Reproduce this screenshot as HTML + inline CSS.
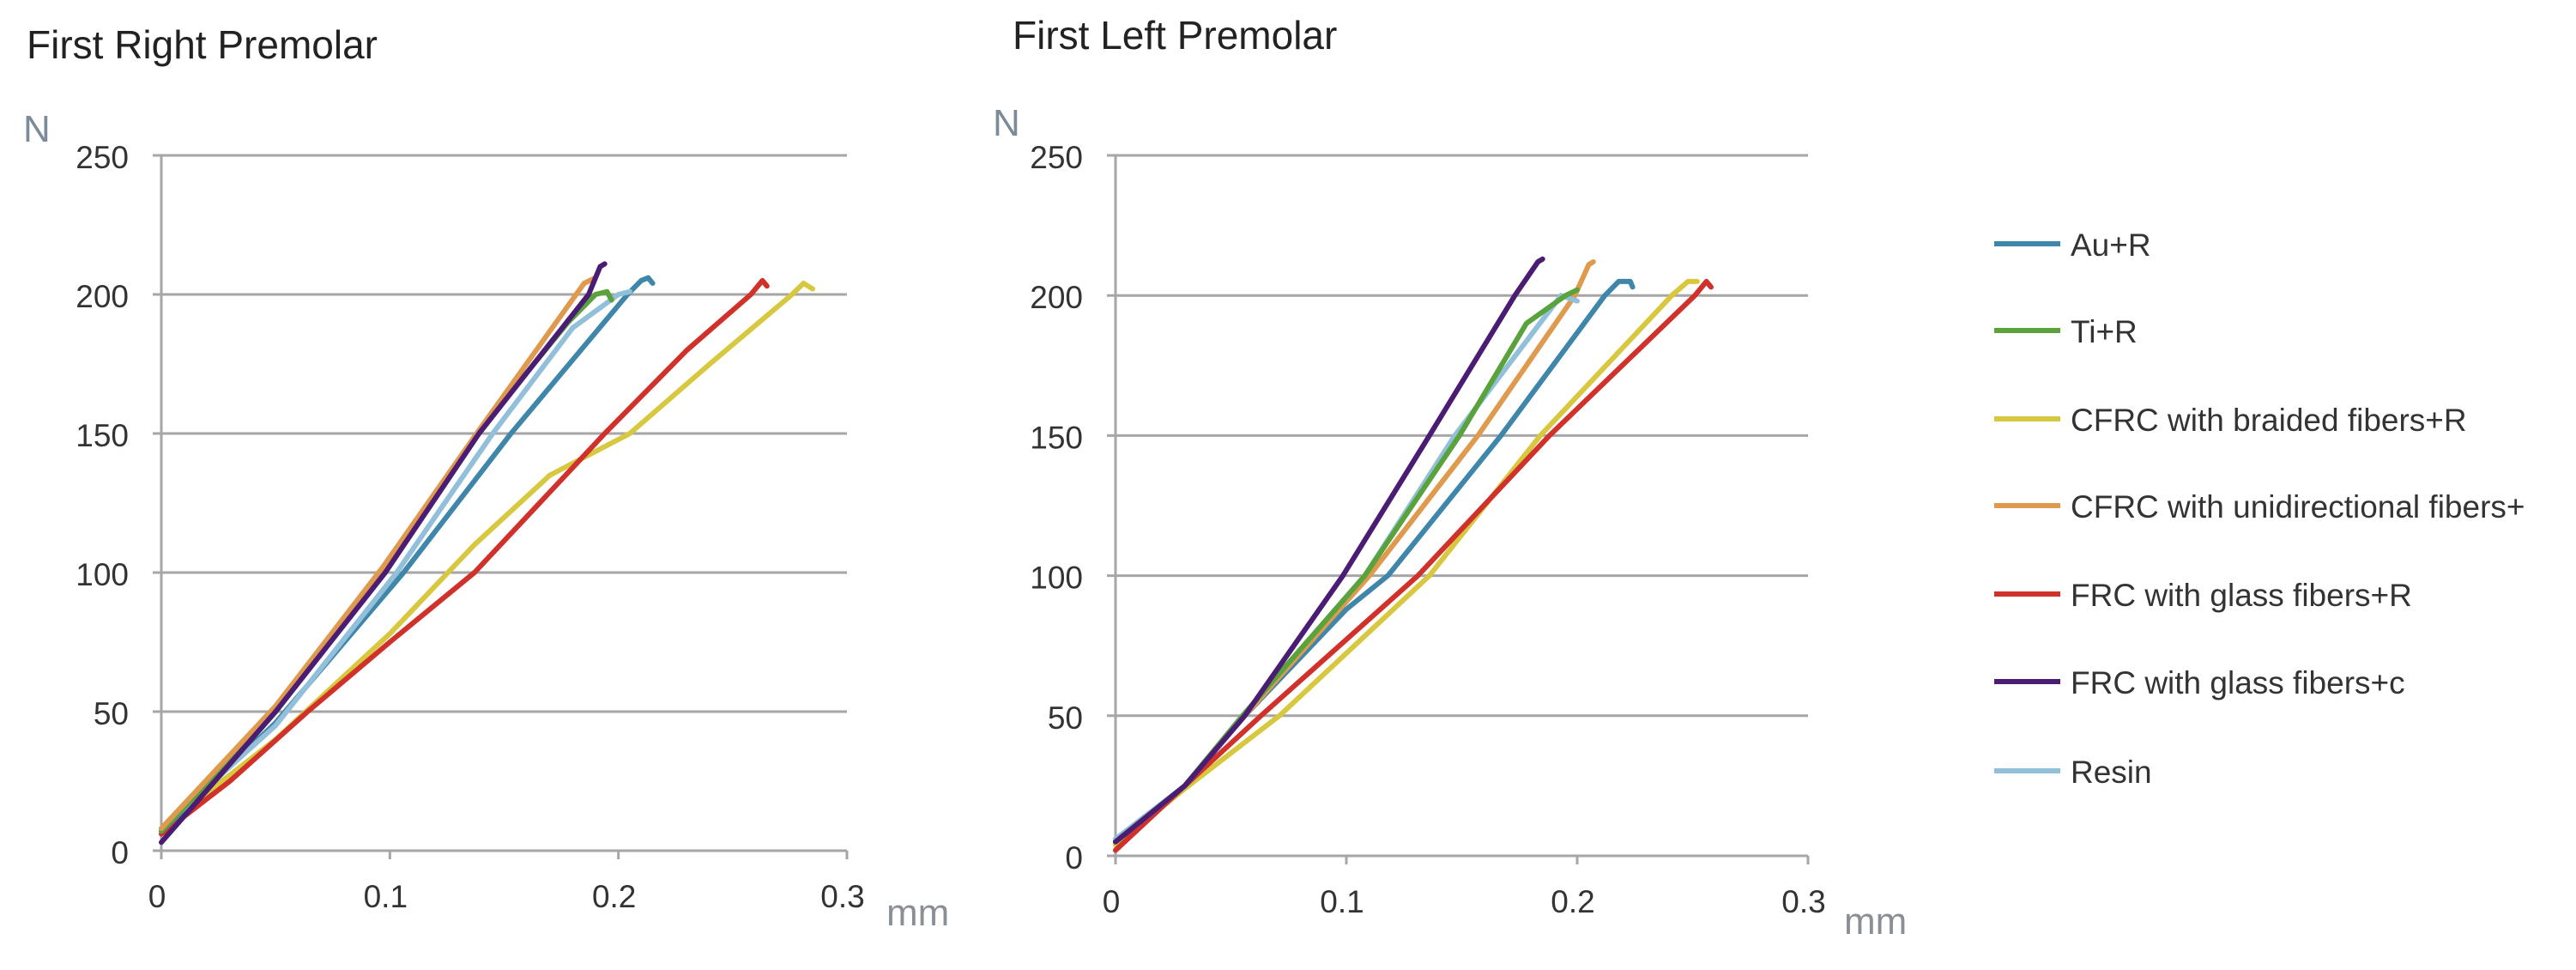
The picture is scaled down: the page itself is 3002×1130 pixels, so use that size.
<!DOCTYPE html>
<html><head><meta charset="utf-8"><style>
html,body{margin:0;padding:0;background:#fff;}
svg{display:block;font-family:"Liberation Sans",sans-serif;}
</style></head><body>
<svg id="root" width="3002" height="1130" viewBox="0 0 3002 1130">
<text x="31" y="68" font-size="46" fill="#222">First Right Premolar</text>
<text x="1180" y="57" font-size="46" fill="#222">First Left Premolar</text>
<g id="left"></g>
<g id="right"></g>
<g id="legend"></g>
</svg>
<script>
const seriesNames = ["Au+R","Ti+R","CFRC with braided fibers+R","CFRC with unidirectional fibers+","FRC with glass fibers+R","FRC with glass fibers+c","Resin"];
const seriesColors = ["#3f86ab","#5aa33c","#d7c83f","#df9a4e","#d0312a","#4a1c73","#92bfd9"];
const yTicks = [0,50,100,150,200,250];
const xTicks = [0,0.1,0.2,0.3];
const xTickLabels = ["0","0.1","0.2","0.3"];
// Left chart (First Right Premolar): [x mm, y N] pairs per series
const leftAu = [[0,7],[0.05,46],[0.106,100],[0.153,150],[0.204,200],[0.21,205],[0.213,206],[0.215,204]];
const leftTi = [[0,7],[0.05,50],[0.097,100],[0.138,150],[0.178,190],[0.19,200],[0.195,201],[0.197,198]];
const leftCfrcB = [[0,8],[0.05,40],[0.1,78],[0.137,110],[0.17,135],[0.205,150],[0.24,175],[0.276,200],[0.281,204],[0.285,202]];
const leftCfrcU = [[0,8],[0.05,52],[0.097,102],[0.138,150],[0.185,204],[0.19,206]];
const leftFrcR = [[0,6],[0.03,25],[0.064,50],[0.1,75],[0.137,100],[0.194,150],[0.23,180],[0.258,200],[0.263,205],[0.265,203]];
const leftFrcC = [[0,3],[0.05,50],[0.098,100],[0.139,150],[0.187,200],[0.192,210],[0.194,211]];
const leftResin = [[0,8],[0.05,45],[0.103,100],[0.145,150],[0.18,188],[0.2,200],[0.205,201]];
// Right chart (First Left Premolar)
const rightAu = [[0,5],[0.03,25],[0.056,50],[0.1,88],[0.118,100],[0.167,150],[0.212,200],[0.218,205],[0.223,205],[0.224,203]];
const rightTi = [[0,5],[0.03,25],[0.055,50],[0.108,100],[0.149,150],[0.178,190],[0.195,200],[0.2,202]];
const rightCfrcB = [[0,4],[0.03,24],[0.071,50],[0.136,100],[0.184,150],[0.241,200],[0.248,205],[0.252,205]];
const rightCfrcU = [[0,5],[0.03,25],[0.056,50],[0.11,100],[0.157,150],[0.199,200],[0.205,211],[0.207,212]];
const rightFrcR = [[0,2],[0.03,25],[0.063,50],[0.131,100],[0.188,150],[0.251,200],[0.256,205],[0.258,203]];
const rightFrcC = [[0,5],[0.03,25],[0.056,50],[0.0985,100],[0.136,150],[0.173,200],[0.183,212],[0.185,213]];
const rightResin = [[0,6],[0.03,25],[0.055,50],[0.108,100],[0.147,150],[0.193,200],[0.2,198]];
const leftSeries = [leftAu,leftTi,leftCfrcB,leftCfrcU,leftFrcR,leftFrcC,leftResin];
const rightSeries = [rightAu,rightTi,rightCfrcB,rightCfrcU,rightFrcR,rightFrcC,rightResin];
const leftOrder = [2,4,0,6,1,3,5];
const rightOrder = [2,4,0,3,6,1,5];
const NS="http://www.w3.org/2000/svg";
function mk(tag,attrs,parent){const e=document.createElementNS(NS,tag);for(const k in attrs)e.setAttribute(k,attrs[k]);parent.appendChild(e);return e;}
function drawChart(g,cfg,series,order,prefix){
  const xs=v=>cfg.x0+(v/0.3)*(cfg.x1-cfg.x0);
  const ys=v=>cfg.y0-(v/250)*(cfg.y0-cfg.y1);
  yTicks.forEach(t=>{
    const l=mk('line',{x1:cfg.x0-10,x2:cfg.x1,y1:ys(t),y2:ys(t),stroke:'#a6a6a6','stroke-width':3},g);
    
    
    const tx=mk('text',{x:cfg.x0-38,y:ys(t)+15,'font-size':37,'text-anchor':'end',fill:'#333'},g);
    tx.textContent=String(t);
    
    
  });
  const ax=mk('line',{x1:cfg.x0,x2:cfg.x0,y1:ys(250),y2:ys(0)+10,stroke:'#a6a6a6','stroke-width':3},g);
  
  
  xTicks.forEach((t,i)=>{
    const tk=mk('line',{x1:xs(t),x2:xs(t),y1:ys(0),y2:ys(0)+10,stroke:'#a6a6a6','stroke-width':3},g);
    
    
    const tx=mk('text',{x:xs(t)-5,y:ys(0)+66,'font-size':37,'text-anchor':'middle',fill:'#333'},g);
    tx.textContent=xTickLabels[i];
    
    
  });
  const n=mk('text',{x:cfg.nx,y:cfg.ny,'font-size':44,fill:'#7d8b99'},g);
  n.textContent='N';
  
  
  const mm=mk('text',{x:cfg.mx,y:cfg.my,'font-size':44,fill:'#8a8f96'},g);
  mm.textContent='mm';
  
  
  order.forEach(si=>{
    const pts=series[si].map(p=>xs(p[0]).toFixed(1)+','+ys(p[1]).toFixed(1)).join(' ');
    const pl=mk('polyline',{points:pts,fill:'none',stroke:seriesColors[si],'stroke-width':6,'stroke-linejoin':'round','stroke-linecap':'round'},g);
    
    
  });
}
drawChart(document.getElementById('left'),{x0:188,x1:987,y0:991,y1:181,nx:27,ny:165,mx:1033,my:1078},leftSeries,leftOrder,'left');
drawChart(document.getElementById('right'),{x0:1300,x1:2107,y0:997,y1:181,nx:1157,ny:158,mx:2149,my:1088},rightSeries,rightOrder,'right');
const lg=document.getElementById('legend');
const legendY=[284,385,488,589,692,794,898];
seriesNames.forEach((nm,i)=>{
  const l=mk('line',{x1:2324,x2:2401,y1:legendY[i],y2:legendY[i],stroke:seriesColors[i],'stroke-width':6},lg);
  
  
  const t=mk('text',{x:2413,y:legendY[i]+14,'font-size':37,fill:'#333'},lg);
  t.textContent=nm;
  
  
});
</script>
</body></html>
